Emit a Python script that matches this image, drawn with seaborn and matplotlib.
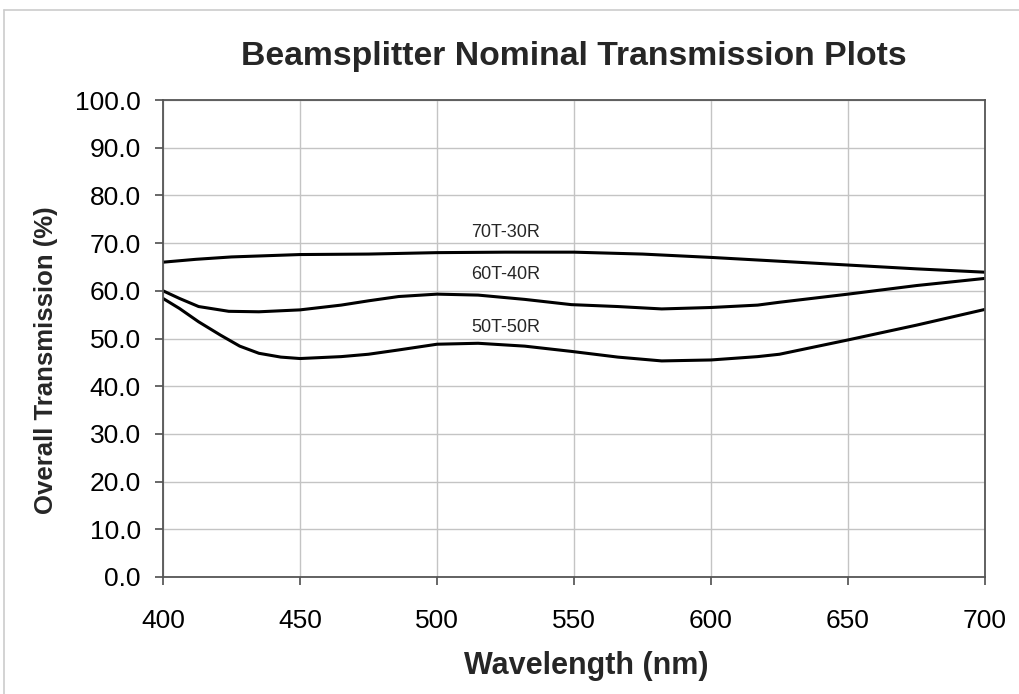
import numpy as np
import pandas as pd
import matplotlib
matplotlib.use("Agg")
import matplotlib.pyplot as plt
import seaborn as sns
from matplotlib.lines import Line2D

# Values
wl_70 = [400, 412, 425, 450, 475, 500, 525, 550, 575, 600, 625, 650, 675, 700]
t_70 = [66.0, 66.6, 67.1, 67.6, 67.7, 68.0, 68.1, 68.1, 67.7, 67.0, 66.2, 65.4, 64.6, 63.9]

wl_60 = [400, 406, 413, 424, 435, 450, 465, 475, 486, 500, 515, 532, 549, 566,
         582, 600, 617, 625, 650, 675, 700]
t_60 = [60.0, 58.4, 56.7, 55.7, 55.6, 56.0, 57.0, 57.9, 58.8, 59.3, 59.1, 58.2,
        57.1, 56.7, 56.2, 56.5, 57.0, 57.6, 59.3, 61.1, 62.6]

wl_50 = [400, 406, 413, 421, 428, 435, 443, 450, 465, 475, 486, 500, 515, 532,
         549, 566, 582, 600, 617, 625, 650, 675, 700]
t_50 = [58.4, 56.3, 53.5, 50.7, 48.4, 46.9, 46.1, 45.8, 46.2, 46.7, 47.6, 48.8,
        49.0, 48.4, 47.3, 46.1, 45.3, 45.5, 46.2, 46.7, 49.7, 52.8, 56.1]

series_names = ["70T-30R", "60T-40R", "50T-50R"]
label_y = [72.3, 63.5, 52.4]
label_x = 525

x_ticks = [400, 450, 500, 550, 600, 650, 700]
y_ticks = [0, 10, 20, 30, 40, 50, 60, 70, 80, 90, 100]

df = pd.concat([
    pd.DataFrame({"wl": wl_70, "t": t_70, "name": "70T-30R"}),
    pd.DataFrame({"wl": wl_60, "t": t_60, "name": "60T-40R"}),
    pd.DataFrame({"wl": wl_50, "t": t_50, "name": "50T-50R"}),
])

sns.set_theme(style="whitegrid")
plt.rcParams["font.family"] = ["Liberation Sans", "DejaVu Sans"]

fig = plt.figure(figsize=(10.2, 6.94), dpi=100)
ax = fig.add_axes([163 / 1020, 1 - 577 / 694, 822 / 1020, 477 / 694])

for name in series_names:
    sub = df[df["name"] == name]
    sns.lineplot(data=sub, x="wl", y="t", ax=ax, color="black", linewidth=2.2,
                 legend=False, solid_joinstyle="round", solid_capstyle="round")

for name, ly in zip(series_names, label_y):
    ax.text(label_x, ly, name, ha="center", va="center", fontsize=13)

ax.set_xlim(400, 700)
ax.set_ylim(0, 100)
ax.set_xticks(x_ticks)
ax.set_yticks(y_ticks)
ax.set_yticklabels([f"{v:.1f}" for v in y_ticks])
ax.grid(True, color="#c4c4c4", linewidth=1)
for s in ax.spines.values():
    s.set_color("#555555")
    s.set_linewidth(1.3)
ax.tick_params(axis="both", which="both", direction="out", length=6,
               color="#555555", labelsize=19, labelcolor="black",
               left=True, bottom=True)
ax.tick_params(axis="y", pad=10)
ax.tick_params(axis="x", pad=17)

ax.set_xlabel("Wavelength (nm)", fontsize=22, fontweight="bold")
ax.set_ylabel("Overall Transmission (%)", fontsize=18.5, fontweight="bold")
ax.xaxis.set_label_coords(0.515, -0.155)
ax.yaxis.set_label_coords(-0.128, 0.455)
ax.set_title("Beamsplitter Nominal Transmission Plots", fontsize=24.3,
             fontweight="bold", pad=25)

# thin frame around the chart, as in the reference
fig.add_artist(Line2D([4 / 1020, 4 / 1020], [0, 1 - 10 / 694], color="#cccccc", lw=1.2))
fig.add_artist(Line2D([4 / 1020, 1], [1 - 10 / 694, 1 - 10 / 694], color="#cccccc", lw=1.2))

fig.savefig("out.png", dpi=100, facecolor="white")
